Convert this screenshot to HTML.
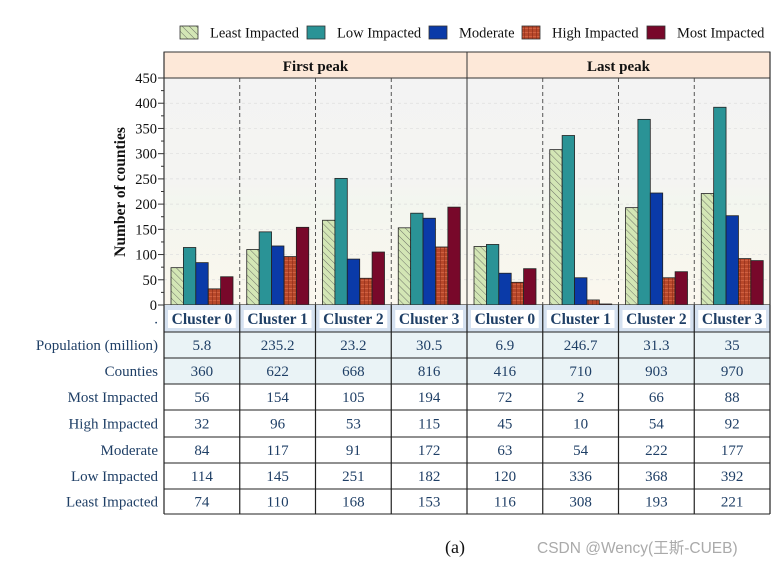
<!DOCTYPE html>
<html><head><meta charset="utf-8">
<style>
body{margin:0;background:#fff;width:784px;height:567px;overflow:hidden;font-family:"Liberation Serif",serif;}
svg{display:block}
</style></head>
<body>
<svg id="c" width="784" height="567" xmlns="http://www.w3.org/2000/svg">
<defs>
<pattern id="hatch" width="5" height="5" patternUnits="userSpaceOnUse" patternTransform="rotate(-45)">
<rect width="5" height="5" fill="#d3e6b5"/><line x1="0" y1="0" x2="0" y2="5" stroke="#555" stroke-width="0.8"/></pattern>
<pattern id="plaid" width="4" height="4" patternUnits="userSpaceOnUse">
<rect width="4" height="4" fill="#b8482a"/><line x1="0" y1="0.5" x2="4" y2="0.5" stroke="#e07050" stroke-width="0.6"/><line x1="0.5" y1="0" x2="0.5" y2="4" stroke="#8a2a18" stroke-width="0.6"/></pattern>
<linearGradient id="bg" x1="0" y1="0" x2="0" y2="1">
<stop offset="0" stop-color="#f3f3f3"/><stop offset="0.45" stop-color="#f4f4f2"/><stop offset="0.55" stop-color="#f3f6ef"/><stop offset="1" stop-color="#fbf7ee"/></linearGradient>
</defs>
<g id="root"></g>
</svg>
<script>
const categories=["Cluster 0","Cluster 1","Cluster 2","Cluster 3","Cluster 0","Cluster 1","Cluster 2","Cluster 3"];
const peaks=["First peak","Last peak"];
const seriesNames=["Least Impacted","Low Impacted","Moderate","High Impacted","Most Impacted"];
const leastImpacted=[74,110,168,153,116,308,193,221];
const lowImpacted=[114,145,251,182,120,336,368,392];
const moderate=[84,117,91,172,63,54,222,177];
const highImpacted=[32,96,53,115,45,10,54,92];
const mostImpacted=[56,154,105,194,72,2,66,88];
const population=["5.8","235.2","23.2","30.5","6.9","246.7","31.3","35"];
const counties=[360,622,668,816,416,710,903,970];
const yTicks=[0,50,100,150,200,250,300,350,400,450];

const series=[leastImpacted,lowImpacted,moderate,highImpacted,mostImpacted];
const fills=["url(#hatch)","#2a9396","#0a3aa8","url(#plaid)","#78082a"];
const legendFills=fills;
const NS="http://www.w3.org/2000/svg";
const root=document.getElementById('root');
function el(t,a,txt){const e=document.createElementNS(NS,t);for(const k in a)e.setAttribute(k,a[k]);if(txt!==undefined)e.textContent=txt;root.appendChild(e);return e;}
const X0=164,X1=770,YT=78,YB=305,HT=52;
const colW=(X1-X0)/categories.length;
const y=v=>YB-(v/450)*(YB-YT);
const xc=i=>X0+i*colW;

// legend
const lx=[180,307,429,522,647];
seriesNames.forEach((n,i)=>{
 let r=el('rect',{x:lx[i],y:26,width:18,height:13,fill:legendFills[i],stroke:'#333','stroke-width':0.8});
 
 
 let t=el('text',{x:lx[i]+30,y:37.5,'font-size':14.5,fill:'#111'},n);
 
 
});
// plot bg
let bgr=el('rect',{x:X0,y:YT,width:X1-X0,height:YB-YT,fill:'url(#bg)'});


yTicks.forEach(v=>{if(v>0)el('line',{x1:X0,x2:X1,y1:y(v),y2:y(v),stroke:'#ddd','stroke-dasharray':'3,3','stroke-width':0.7});});
// header
peaks.forEach((p,i)=>{
 let w=(X1-X0)/2;
 let r=el('rect',{x:X0+i*w,y:HT,width:w,height:YT-HT,fill:'#fde8d8',stroke:'#333','stroke-width':1});
 
 
 let t=el('text',{x:X0+i*w+w/2,y:71,'font-size':15,'font-weight':'bold','text-anchor':'middle',fill:'#111'},p);
 
 
});
// dividers
for(let i=1;i<categories.length;i++){
 if(i===4) el('line',{x1:xc(i),x2:xc(i),y1:YT,y2:YB,stroke:'#333','stroke-width':1});
 else el('line',{x1:xc(i),x2:xc(i),y1:YT,y2:YB,stroke:'#444','stroke-dasharray':'4,3','stroke-width':0.9});
}
// bars
const bw=12.4,off=7;
categories.forEach((c,i)=>{
 series.forEach((s,j)=>{
  let b=el('rect',{x:xc(i)+off+j*bw,y:y(s[i]),width:bw,height:YB-y(s[i]),fill:fills[j],stroke:'#222','stroke-width':0.8});
  
  
 });
});
// axes
el('line',{x1:X0,x2:X0,y1:HT,y2:YB,stroke:'#333','stroke-width':1.2});
el('line',{x1:X1,x2:X1,y1:HT,y2:YB,stroke:'#333','stroke-width':1.2});
el('line',{x1:X0,x2:X1,y1:YB,y2:YB,stroke:'#333','stroke-width':1.2});
yTicks.forEach(v=>{
 el('line',{x1:X0-6,x2:X0,y1:y(v),y2:y(v),stroke:'#333','stroke-width':1});
 let t=el('text',{x:X0-7,y:y(v)+5,'font-size':14.5,'text-anchor':'end',fill:'#111'},v);
 
 
});
for(let v=25;v<450;v+=50) el('line',{x1:X0-3,x2:X0,y1:y(v),y2:y(v),stroke:'#333','stroke-width':1});
let yt=el('text',{x:0,y:0,'font-size':15.5,'font-weight':'bold','text-anchor':'middle',transform:'translate(125,192) rotate(-90)',fill:'#111'},'Number of counties');



// table
const rowY=[305,332,358,384,410,437,463,489,514];
const rowLabels=[".","Population (million)","Counties","Most Impacted","High Impacted","Moderate","Low Impacted","Least Impacted"];
const rowData=[categories,population,counties,mostImpacted,highImpacted,moderate,lowImpacted,leastImpacted];
const rowBg=["#d5e1f0","#eaf3f6","#eaf3f6","#fff","#fff","#fff","#fff","#fff"];
rowData.forEach((r,ri)=>{
 let bgc=el('rect',{x:X0,y:rowY[ri],width:X1-X0,height:rowY[ri+1]-rowY[ri],fill:rowBg[ri]});
 
 
 let cy=(rowY[ri]+rowY[ri+1])/2+5;
 let lab=el('text',{x:158,y:cy,'font-size':15,'text-anchor':'end',fill:'#1f3f66'},rowLabels[ri]);
 
 
 r.forEach((v,ci)=>{
  if(ri===0){
   el('rect',{x:xc(ci)+4,y:rowY[0]+5,width:colW-8,height:18,fill:'#fff'});
   let t=el('text',{x:xc(ci)+colW/2,y:cy+0.5,'font-size':15.5,'font-weight':'bold','text-anchor':'middle',fill:'#1f3f66'},v);
   
   
  } else {
   let t=el('text',{x:xc(ci)+colW/2,y:cy,'font-size':15,'text-anchor':'middle',fill:'#1f3f66'},v);
   
   
  }
 });
});
rowY.forEach((yy,i)=>{if(i>0)el('line',{x1:X0,x2:X1,y1:yy,y2:yy,stroke:'#222','stroke-width':1});});
for(let i=0;i<=categories.length;i++) el('line',{x1:xc(i),x2:xc(i),y1:YB,y2:514,stroke:'#222','stroke-width':1.2});

let a=el('text',{x:455,y:553,'font-size':18,'text-anchor':'middle',fill:'#111'},'(a)');


let w=el('text',{x:537,y:553,'font-size':15.5,fill:'#aaa','font-family':'"Liberation Sans","Noto Sans CJK SC",sans-serif'},'CSDN @Wency(王斯-CUEB)');


</script>
</body></html>
